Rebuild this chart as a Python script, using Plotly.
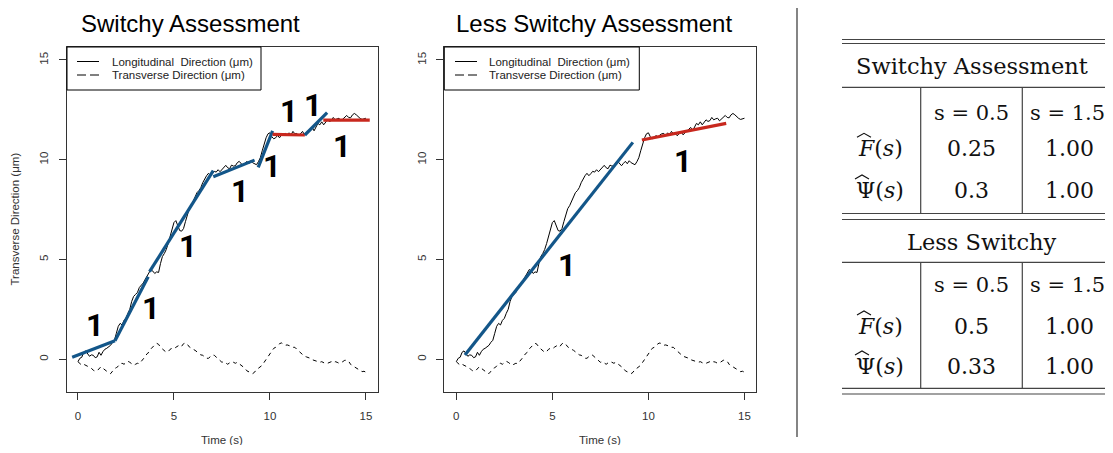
import plotly.graph_objects as go

W, H = 1113, 453
OFF = 8  # 页面 body 默认边距
FW, FH = W - OFF, H - 2 * OFF

# 时间轴 (s) 与两条轨迹
time_s = [round(i * 0.1, 1) for i in range(151)]
longitudinal = [
    -0.12, 0.05, 0.1, 0.35, 0.42, 0.25, 0.15, 0.22, 0.2, 0.08,
    0.12, 0.35, 0.2, 0.38, 0.5, 0.55, 0.62, 0.7, 0.85, 0.95,
    1.3, 1.65, 1.8, 1.72, 1.95, 2.05, 2.3, 2.5, 2.9, 3.15,
    3.25, 3.35, 3.6, 3.7, 3.82, 4.0, 4.18, 4.35, 4.5, 4.42,
    4.3, 4.38, 4.35, 4.8, 5.15, 5.3, 5.5, 5.8, 6.15, 6.5,
    6.85, 6.95, 6.7, 6.45, 6.42, 6.55, 6.9, 7.3, 7.55, 7.7,
    7.9, 8.15, 8.35, 8.45, 8.6, 8.85, 9.05, 9.2, 9.32, 9.2,
    9.3, 9.42, 9.38, 9.5, 9.4, 9.5, 9.6, 9.72, 9.6, 9.55,
    9.73, 9.68, 9.7, 9.85, 9.92, 9.8, 9.7, 9.82, 9.92, 9.8,
    9.95, 9.85, 9.78, 9.75, 9.9, 10.1, 10.45, 10.8, 11.1, 11.3,
    11.35, 11.15, 11.05, 11.1, 11.22, 11.1, 11.25, 11.3, 11.32, 11.2,
    11.35, 11.25, 11.42, 11.3, 11.32, 11.2, 11.3, 11.42, 11.25, 11.35,
    11.4, 11.5, 11.62, 11.45, 11.65, 11.82, 11.75, 11.9, 11.75, 11.88,
    12.0, 11.92, 11.96, 12.12, 12.0, 12.05, 12.08, 11.95, 12.05, 12.15,
    12.22, 12.12, 12.1, 12.25, 12.32, 12.25, 12.15, 12.07, 12.02, 12.05,
    12.08,
]
transverse = [
    -0.12, -0.2, -0.3, -0.25, -0.3, -0.35, -0.4, -0.45, -0.55, -0.6,
    -0.58, -0.45, -0.37, -0.45, -0.55, -0.6, -0.68, -0.72, -0.6, -0.47,
    -0.42, -0.35, -0.22, -0.2, -0.25, -0.15, -0.1, -0.15, -0.22, -0.3,
    -0.25, -0.2, -0.22, -0.12, 0.0, 0.13, 0.28, 0.35, 0.52, 0.65,
    0.72, 0.8, 0.75, 0.6, 0.5, 0.45, 0.35, 0.38, 0.5, 0.55,
    0.52, 0.6, 0.68, 0.72, 0.65, 0.78, 0.82, 0.75, 0.62, 0.58,
    0.5, 0.45, 0.38, 0.3, 0.22, 0.2, 0.12, 0.05, 0.05, 0.15,
    0.22, 0.2, 0.1, 0.0, -0.1, -0.15, -0.12, -0.2, -0.25, -0.18,
    -0.12, -0.15, -0.2, -0.15, -0.22, -0.3, -0.35, -0.45, -0.58, -0.62,
    -0.68, -0.72, -0.65, -0.5, -0.45, -0.38, -0.3, -0.15, 0.0, 0.15,
    0.3, 0.42, 0.55, 0.6, 0.7, 0.78, 0.82, 0.75, 0.7, 0.72,
    0.7, 0.65, 0.6, 0.6, 0.5, 0.42, 0.3, 0.25, 0.15, 0.12,
    0.1, 0.05, -0.02, -0.05, -0.1, -0.12, -0.15, -0.12, -0.18, -0.22,
    -0.2, -0.15, -0.12, -0.18, -0.12, -0.15, -0.2, -0.18, -0.1, -0.05,
    -0.05, -0.1, -0.25, -0.35, -0.38, -0.45, -0.5, -0.55, -0.62, -0.6,
    -0.65,
]

# 分段拟合线：起点/终点时间、起点/终点值、类型 (b=蓝, r=红)
sw_t0 = [-0.3, 1.93, 3.73, 7.05, 9.39, 10.14, 11.82, 12.78]
sw_t1 = [1.93, 3.66, 7.05, 9.2, 10.14, 11.82, 12.98, 15.2]
sw_v0 = [0.1, 0.93, 4.39, 9.15, 9.62, 11.27, 11.24, 11.99]
sw_v1 = [0.93, 4.14, 9.45, 9.98, 11.45, 11.24, 12.36, 11.99]
sw_kind = ["b", "b", "b", "b", "b", "r", "b", "r"]

ls_t0 = [0.45, 9.66]
ls_t1 = [9.19, 14.05]
ls_v0 = [0.22, 10.99]
ls_v1 = [10.87, 11.82]
ls_kind = ["b", "r"]

# "1" 标注位置
sw_lab_t = [0.89, 3.83, 5.74, 8.44, 10.09, 11.0, 12.26, 13.78]
sw_lab_v = [1.68, 2.55, 5.64, 8.4, 9.68, 12.4, 12.74, 10.65]
ls_lab_t = [5.75, 11.79]
ls_lab_v = [4.72, 9.9]

# 表格内容
tab_titles = ["Switchy Assessment", "Less Switchy"]
tab_cols = ["s = 0.5", "s = 1.5"]
tab_rows = ["<i>F</i>(<i>s</i>)", "Ψ(<i>s</i>)"]
tab_vals = [[["0.25", "1.00"], ["0.3", "1.00"]],
            [["0.5", "1.00"], ["0.33", "1.00"]]]

BLUE = "#135689"
RED = "#C8281E"
COLORS = {"b": BLUE, "r": RED}
sans = "Arial, Liberation Sans"
serif = "DejaVu Serif, Liberation Serif"


def px(x):
    return (x - OFF) / FW


def py(y):
    return 1 - (y - OFF) / FH


fig = go.Figure()
annotations = []
shapes = []


def note(x, y, text, size, family=sans, color="black", **kw):
    annotations.append(dict(x=px(x), y=py(y), xref="paper", yref="paper", text=text,
                            showarrow=False, xanchor=kw.pop("xanchor", "center"),
                            yanchor="middle", font=dict(family=family, size=size,
                                                        color=color), **kw))


def seg(x0, y0, x1, y1, color="#444", width=1.2, dash=None):
    ln = dict(color=color, width=width)
    if dash:
        ln["dash"] = dash
    shapes.append(dict(type="line", xref="paper", yref="paper", x0=px(x0), x1=px(x1),
                       y0=py(y0), y1=py(y1), line=ln))


panels = [
    ("x", "y", sw_t0, sw_t1, sw_v0, sw_v1, sw_kind, sw_lab_t, sw_lab_v),
    ("x2", "y2", ls_t0, ls_t1, ls_v0, ls_v1, ls_kind, ls_lab_t, ls_lab_v),
]

for xa, ya, t0, t1, v0, v1, kind, lt, lv in panels:
    fig.add_trace(go.Scatter(x=time_s, y=longitudinal, mode="lines",
                             line=dict(color="black", width=1),
                             name="Longitudinal  Direction (μm)",
                             xaxis=xa, yaxis=ya, showlegend=False))
    fig.add_trace(go.Scatter(x=time_s, y=transverse, mode="lines",
                             line=dict(color="black", width=1, dash="4px,4px"),
                             name="Transverse Direction (μm)",
                             xaxis=xa, yaxis=ya, showlegend=False))
    for a, b, c, d, k in zip(t0, t1, v0, v1, kind):
        fig.add_trace(go.Scatter(x=[a, b], y=[c, d], mode="lines",
                                 line=dict(color=COLORS[k], width=3.2),
                                 showlegend=False, xaxis=xa, yaxis=ya))
    for a, b in zip(lt, lv):
        annotations.append(dict(x=a, y=b, xref=xa, yref=ya, text="1",
                                showarrow=False, xanchor="center", yanchor="middle",
                                font=dict(family="Roboto", size=31, color="black",
                                          weight=700)))

axis_common = dict(showgrid=False, zeroline=False, showline=True, mirror=True,
                   linecolor="#333", linewidth=1, ticks="outside", ticklen=7,
                   tickcolor="#333", tickvals=[0, 5, 10, 15],
                   tickfont=dict(family=sans, size=11.5, color="#333"))

ydom = [py(392), py(47)]
fig.update_layout(
    width=FW, height=FH,
    margin=dict(l=0, r=0, t=0, b=0),
    paper_bgcolor="white", plot_bgcolor="white",
    showlegend=False,
    xaxis=dict(domain=[px(67), px(378)], range=[-0.57, 15.63], anchor="y",
               ticklabelstandoff=6, **axis_common),
    yaxis=dict(domain=ydom, range=[-1.64, 15.65], anchor="x", tickangle=-90,
               ticklabelstandoff=6, **axis_common),
    xaxis2=dict(domain=[px(444.3), px(756)], range=[-0.625, 15.6], anchor="y2",
                ticklabelstandoff=6, **axis_common),
    yaxis2=dict(domain=ydom, range=[-1.64, 15.65], anchor="x2", tickangle=-90,
                ticklabelstandoff=6, **axis_common),
)

# 图例（手绘框）
for bx0, bx1, sx0, sx1, tx in [(67, 261, 77, 99, 110), (444.3, 639.3, 455, 477, 487.3)]:
    shapes.append(dict(type="rect", xref="paper", yref="paper", x0=px(bx0), x1=px(bx1),
                       y0=py(90), y1=py(47), line=dict(color="black", width=1),
                       fillcolor="white", layer="above"))
    seg(sx0, 61.5, sx1, 61.5, color="black", width=1)
    seg(sx0, 75, sx1, 75, color="black", width=1, dash="9px,4px")
    note(tx, 61.5, "Longitudinal\u00a0 Direction (μm)", 11.5, color="#222", xanchor="left")
    note(tx, 75, "Transverse Direction (μm)", 11.5, color="#222", xanchor="left")

# 子图标题与坐标轴标题
note(190, 23, "Switchy Assessment", 24)
note(594, 23, "Less Switchy Assessment", 24)
note(222, 440, "Time (s)", 11.5, color="#333")
note(600, 440, "Time (s)", 11.5, color="#333")
note(15, 219.5, "Transverse Direction (μm)", 11.5, color="#333", textangle=-90)

# 分隔竖线
seg(797, 5, 797, 437, color="#333", width=1.2)

# 右侧表格
tables = [
    dict(top=[39.5, 43.5], title_xy=(972, 66), sep=87.3, bottom=[213.5, 219.5],
         head_y=112.7, row_y=[148.3, 190]),
    dict(top=[], title_xy=(982, 241.7), sep=262.3, bottom=[388.3, 394],
         head_y=285, row_y=[326, 366]),
]
col_x = [971.7, 1069]
hat_x = [(857, 871), (855, 869)]
for ti, tb in enumerate(tables):
    for y in tb["top"] + [tb["sep"]] + tb["bottom"]:
        seg(842, y, 1113, y)
    seg(920.7, tb["sep"], 920.7, tb["bottom"][0])
    seg(1022.3, tb["sep"], 1022.3, tb["bottom"][0])
    note(tb["title_xy"][0], tb["title_xy"][1], tab_titles[ti], 22.5, family=serif, color="#111")
    for cx, c in zip(col_x, tab_cols):
        note(cx - (2 if cx > 1000 else 0), tb["head_y"], c, 21, family=serif, color="#111")
    for ri, (ry, rl) in enumerate(zip(tb["row_y"], tab_rows)):
        note(880, ry, rl, 22, family=serif, color="#111")
        # 宽帽子符号
        hx0, hx1 = hat_x[ri]
        ytop = ry - 15
        shapes.append(dict(type="path", xref="paper", yref="paper",
                           path="M %f %f L %f %f L %f %f" % (
                               px(hx0), py(ytop + 4), px((hx0 + hx1) / 2), py(ytop),
                               px(hx1), py(ytop + 4)),
                           line=dict(color="#111", width=1.1)))
        for cx, v in zip(col_x, tab_vals[ti][ri]):
            note(cx, ry, v, 22, family=serif, color="#111")

fig.update_layout(annotations=annotations, shapes=shapes)

fig.write_html("out.html")
